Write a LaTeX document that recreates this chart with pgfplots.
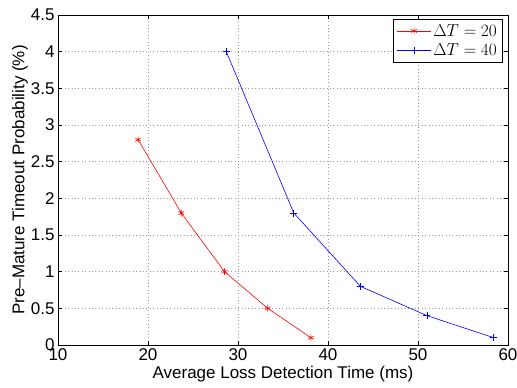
\documentclass[border=0pt]{standalone}
\usepackage{pgfplots}
\pgfplotsset{compat=1.18}
\usepackage{fontspec}
\setmainfont{Liberation Sans}
\begin{document}
\begin{tikzpicture}
\begin{axis}[
  name=ax,
  scale only axis,
  width=450pt, height=330pt,
  xmin=10, xmax=60, ymin=0, ymax=4.5,
  xtick={10,20,...,60},
  ytick={0,0.5,...,4.5},
  yticklabels={0,0.5,1,1.5,2,2.5,3,3.5,4,4.5},
  /pgf/number format/assume math mode=true,
  tick label style={font=\fontsize{17}{19}\selectfont},
  label style={font=\fontsize{17}{19}\selectfont},
  xticklabel style={yshift=-1pt, inner sep=2pt},
  xlabel={Average Loss Detection Time (ms)},
  ylabel={Pre–Mature Timeout Probability (\%)},
  xlabel style={at={([yshift=-29pt]axis description cs:0.5,0)}, anchor=center, inner sep=1pt},
  ylabel style={at={([xshift=-38pt]axis description cs:0,0.5)}, anchor=center},
  grid=major,
  grid style={dash pattern=on 0.8pt off 2.6pt, gray!80, line width=0.6pt},
  tick align=inside,
  tick pos=both,
  major tick length=4pt,
  axis line style={line width=0.8pt},
  every tick/.style={black, line width=0.6pt},
  legend style={at={(0.987,0.988)}, anchor=north east, draw=black, line width=0.6pt,
    font=\fontsize{16}{18}\selectfont, inner sep=3pt, row sep=2pt},
  legend cell align=left,
  legend image code/.code={\draw[mark repeat=2,mark phase=2,#1] plot coordinates {(0pt,0pt) (17pt,0pt) (34pt,0pt)};},
]
\addplot[red, mark=asterisk, mark size=3.3pt, line width=0.6pt] coordinates {
  (18.9,2.8) (23.7,1.8) (28.5,1.0) (33.3,0.5) (38.1,0.1)
};
\addlegendentry{$\Delta T = 20$}
\addplot[blue, mark=+, mark size=3.5pt, line width=0.6pt] coordinates {
  (28.7,4.0) (36.2,1.8) (43.6,0.8) (51.0,0.4) (58.4,0.1)
};
\addlegendentry{$\Delta T = 40$}
\end{axis}
\pgfresetboundingbox
\path ([shift={(-58pt,-43pt)}]ax.south west) rectangle ([shift={(9pt,15pt)}]ax.north east);
\end{tikzpicture}
\end{document}
